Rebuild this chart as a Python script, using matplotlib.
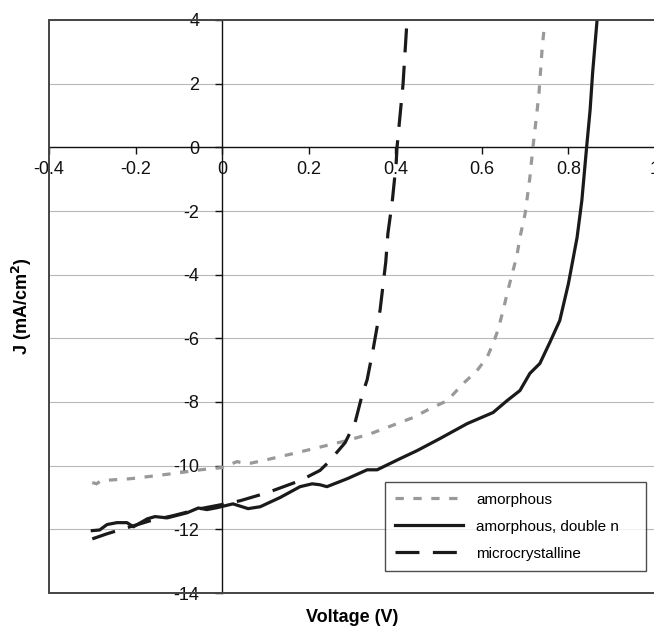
import matplotlib
matplotlib.use("Agg")
import matplotlib.pyplot as plt
from matplotlib.patches import Rectangle

plt.rcParams['font.family'] = ['Liberation Sans', 'DejaVu Sans']

# amorphous (gray dotted)
am_v = [-0.30, -0.29, -0.28, -0.212, -0.15, -0.097, -0.05, 0.0, 0.035, 0.042, 0.06,
        0.104, 0.164, 0.21, 0.249, 0.289, 0.342, 0.381, 0.404, 0.441, 0.48, 0.52,
        0.557, 0.589, 0.612, 0.626, 0.637, 0.649, 0.66, 0.672, 0.681, 0.688, 0.70,
        0.711, 0.718, 0.727, 0.732, 0.739, 0.744]
am_j = [-10.53, -10.57, -10.47, -10.41, -10.31, -10.22, -10.13, -10.06, -9.87, -9.9, -9.94,
        -9.81, -9.62, -9.47, -9.34, -9.21, -9.0, -8.8, -8.68, -8.49, -8.21, -7.96,
        -7.42, -7.01, -6.6, -6.16, -5.75, -5.13, -4.5, -3.87, -3.4, -2.83, -2.08,
        -0.94, 0.0, 1.07, 1.7, 3.05, 3.77]

# amorphous, double n (black solid)
dn_v = [-0.30, -0.283, -0.266, -0.243, -0.22, -0.205, -0.173, -0.155, -0.127, -0.081,
        -0.055, -0.035, -0.012, 0.025, 0.06, 0.088, 0.134, 0.18, 0.208, 0.226, 0.242,
        0.289, 0.335, 0.358, 0.411, 0.45, 0.503, 0.566, 0.626, 0.658, 0.688, 0.711,
        0.734, 0.757, 0.78, 0.80, 0.82, 0.831, 0.842, 0.85, 0.856, 0.866]
dn_j = [-12.04, -12.02, -11.85, -11.79, -11.79, -11.92, -11.67, -11.6, -11.64, -11.48,
        -11.33, -11.38, -11.32, -11.2, -11.35, -11.29, -11.0, -10.66, -10.57, -10.6, -10.66,
        -10.41, -10.13, -10.13, -9.78, -9.53, -9.15, -8.68, -8.33, -7.96, -7.64, -7.1,
        -6.79, -6.13, -5.44, -4.28, -2.83, -1.67, 0.0, 1.16, 2.36, 3.97]

# microcrystalline (black dashed)
mc_v = [-0.30, -0.266, -0.22, -0.166, -0.113, -0.05, 0.0, 0.042, 0.104, 0.18, 0.226,
        0.245, 0.284, 0.307, 0.323, 0.335, 0.349, 0.365, 0.378, 0.383, 0.393, 0.402,
        0.404, 0.418, 0.427]
mc_j = [-12.3, -12.14, -11.95, -11.73, -11.57, -11.35, -11.22, -11.1, -10.85, -10.47, -10.15,
        -9.9, -9.28, -8.65, -7.8, -7.3, -6.33, -5.1, -3.6, -2.7, -1.7, -0.5,
        0.0, 2.0, 3.97]

labels = ['amorphous', 'amorphous, double n', 'microcrystalline']
x_ticks = [-0.4, -0.2, 0, 0.2, 0.4, 0.6, 0.8, 1]
y_ticks = [4, 2, 0, -2, -4, -6, -8, -10, -12, -14]

fig = plt.figure(figsize=(6.54, 6.27), dpi=100)
ax = fig.add_axes([49/654, 1 - 593/627, 606/654, (593 - 20)/627])
ax.set_xlim(-0.4, 1.0)
ax.set_ylim(-14, 4)

for y in y_ticks:
    ax.axhline(y, color='#b8b8b8', lw=0.8, zorder=0)

lw = 2.3
ax.plot(am_v, am_j, color='#999999', lw=lw, linestyle=(0, (2.6, 3.0)),
        dash_capstyle='butt', label=labels[0], zorder=3)
ax.plot(dn_v, dn_j, color='#1a1a1a', lw=lw, linestyle='-', label=labels[1], zorder=3)
ax.plot(mc_v, mc_j, color='#1a1a1a', lw=lw, linestyle=(0, (7.5, 4.2)),
        dash_capstyle='butt', label=labels[2], zorder=3)

for s in ['top', 'right']:
    ax.spines[s].set_visible(False)
ax.spines['left'].set_position(('data', 0))
ax.spines['bottom'].set_position(('data', 0))
ax.spines['left'].set_color('#111111')
ax.spines['bottom'].set_color('#111111')
ax.spines['left'].set_linewidth(1.0)
ax.spines['bottom'].set_linewidth(1.0)

ax.add_patch(Rectangle((0, 0), 1, 1, transform=ax.transAxes, fill=False,
                       edgecolor='#444444', lw=1.4, clip_on=False, zorder=5))

ax.set_xticks(x_ticks)
ax.set_xticklabels(['-0.4', '-0.2', '0', '0.2', '0.4', '0.6', '0.8', '1'])
ax.set_yticks(y_ticks)
ax.set_yticklabels([str(v) for v in y_ticks])
ax.tick_params(axis='x', direction='out', length=5, width=1, pad=4.5, labelsize=13,
               colors='#111111')
ax.tick_params(axis='y', direction='out', length=5, width=1, pad=11.5, labelsize=13,
               colors='#111111')

fig.text(352/654, 1 - 618/627, 'Voltage (V)', ha='center', va='center',
         fontsize=13, fontweight='bold')
fig.text(22/654, 1 - 306/627, 'J (mA/cm$^\\mathbf{2}$)', ha='center', va='center',
         rotation=90, fontsize=13, fontweight='bold')

leg = ax.legend(loc='upper left', bbox_to_anchor=(0.554, 0.194, 0.431, 0),
                mode='expand', borderaxespad=0, fontsize=11, handlelength=4.4,
                handletextpad=0.9, labelspacing=0.85, borderpad=0.7,
                frameon=True, fancybox=False)
leg.get_frame().set_edgecolor('#222222')
leg.get_frame().set_linewidth(1.0)

fig.savefig('out.png', dpi=100)
